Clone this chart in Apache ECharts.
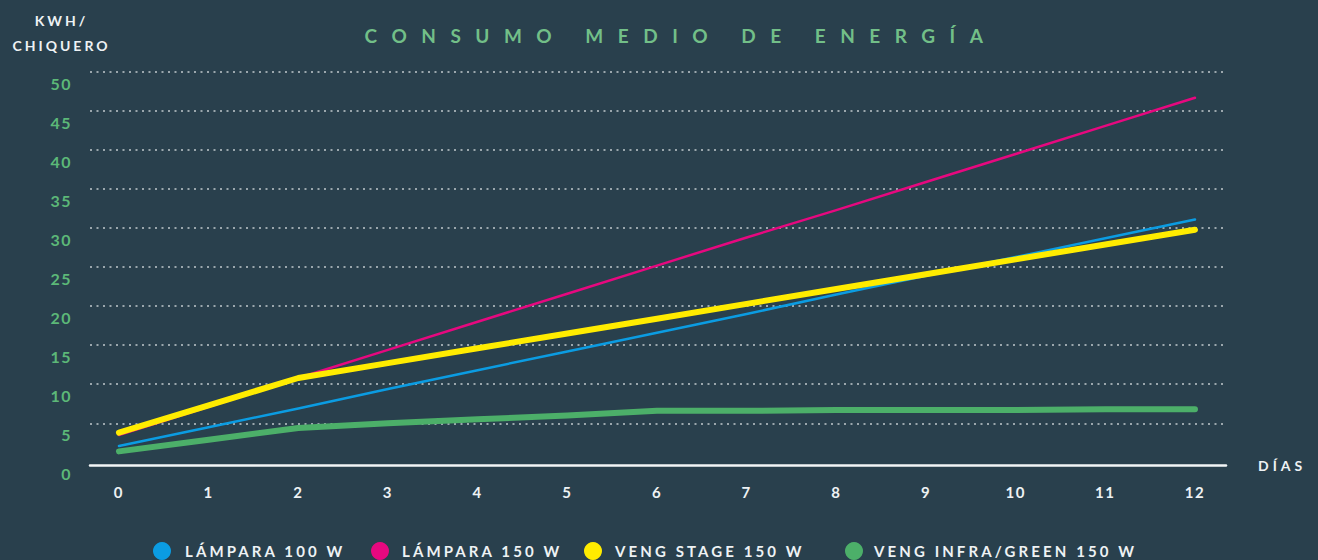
<!DOCTYPE html>
<html lang="es">
<head>
    <meta charset="UTF-8">
    <title>Consumo medio de energía</title>
    <style>
        html, body { margin: 0; padding: 0; background: #29404d; }
        #chart1 { width: 1318px; height: 560px; }
    </style>
</head>
<body>
<div id="chart1"></div>

<script type="text/javascript" src="https://cdn.jsdelivr.net/npm/echarts@6/dist/echarts.min.js"></script>
<script type="text/javascript">
    // datos (kWh por chiquero, por día)
    var dias = [0, 1, 2, 3, 4, 5, 6, 7, 8, 9, 10, 11, 12];
    var lampara100 = [2.1, 4.5, 6.9, 9.4, 11.8, 14.2, 16.6, 19.0, 21.5, 23.9, 26.3, 28.7, 31.1];
    var lampara150 = [3.5, 7.1, 10.8, 14.4, 18.0, 21.6, 25.2, 28.8, 32.3, 35.9, 39.5, 43.1, 46.7];
    var vengStage = [3.8, 7.3, 10.8, 12.7, 14.6, 16.5, 18.4, 20.3, 22.2, 24.1, 26.0, 27.9, 29.8];
    var vengInfra = [1.4, 2.9, 4.4, 5.0, 5.5, 6.0, 6.6, 6.6, 6.7, 6.7, 6.7, 6.8, 6.8];
    var nombres = ['LÁMPARA 100 W', 'LÁMPARA 150 W', 'VENG STAGE 150 W', 'VENG INFRA/GREEN 150 W'];
    var colores = ['#0b9ce2', '#e6087f', '#ffec00', '#4caf69'];

    function pares(vals) {
        return dias.map(function (d, i) { return [d, vals[i]]; });
    }

    var fuente = 'Lato, "Open Sans", sans-serif';
    var blanco = '#eef2f4';

    var myChart1 = echarts.init(document.getElementById('chart1'), null, {renderer: 'svg'});

    var legendLeft = [153, 371, 584, 845];
    var legendPad = [9, 8, 8, 6];
    var legends = nombres.map(function (n, i) {
        return {
            data: [n],
            left: legendLeft[i],
            top: 542,
            padding: 0,
            icon: 'circle',
            itemWidth: 18,
            itemHeight: 18,
            textStyle: {
                color: blanco,
                fontFamily: fuente,
                fontWeight: 'bold',
                fontSize: 15,
                padding: [0, 0, 0, legendPad[i]]
            }
        };
    });

    function linea(idx, vals, ancho) {
        return {
            name: nombres[idx],
            type: 'line',
            data: pares(vals),
            symbol: 'none',
            lineStyle: {color: colores[idx], width: ancho, cap: 'round', join: 'round'},
            itemStyle: {color: colores[idx]}
        };
    }

    myChart1.setOption({
        backgroundColor: '#29404d',
        animation: false,
        graphic: [
            {type: 'text', x: 681, y: 35, style: {text: 'CONSUMO MEDIO DE ENERGÍA', align: 'center', verticalAlign: 'middle',
                fill: '#72bf88', font: 'bold 19px ' + fuente}},
            {type: 'text', x: 61.5, y: 20, style: {text: 'KWH/', align: 'center', verticalAlign: 'middle',
                fill: blanco, font: 'bold 14px ' + fuente}},
            {type: 'text', x: 61.5, y: 45, style: {text: 'CHIQUERO', align: 'center', verticalAlign: 'middle',
                fill: blanco, font: 'bold 14px ' + fuente}}
        ],
        legend: legends,
        grid: {left: 90, right: 92, top: 72, bottom: 97.7},
        xAxis: {
            type: 'value',
            min: -0.323,
            max: 12.346,
            offset: 3,
            name: 'DÍAS',
            nameLocation: 'end',
            nameGap: 32,
            nameTextStyle: {color: blanco, fontFamily: fuente, fontWeight: 'bold', fontSize: 14, padding: [4, 0, 0, 0]},
            axisLine: {show: true, onZero: false, lineStyle: {color: '#f2f5f6', width: 2.5}},
            axisTick: {show: false},
            splitLine: {show: false},
            axisLabel: {
                customValues: dias,
                color: blanco,
                fontFamily: fuente,
                fontWeight: 'bold',
                fontSize: 15,
                margin: 19
            }
        },
        yAxis: {
            type: 'value',
            min: 0,
            max: 50,
            interval: 5,
            axisLine: {show: false},
            axisTick: {show: false},
            splitLine: {
                show: true,
                showMinLine: false,
                lineStyle: {color: '#9ba7ad', width: 2, type: [2, 4.5]}
            },
            axisLabel: {
                color: '#5cb878',
                fontFamily: fuente,
                fontWeight: 'bold',
                fontSize: 16,
                margin: 18,
                verticalAlign: 'top',
                lineHeight: 22
            }
        },
        series: [
            linea(0, lampara100, 2.5),
            linea(1, lampara150, 2.5),
            linea(2, vengStage, 6),
            linea(3, vengInfra, 6)
        ]
    });

    // espaciado de letras como en el original
    var espaciado = {'CONSUMO MEDIO DE ENERGÍA': 14.5, 'KWH/': 3, 'CHIQUERO': 3, 'DÍAS': 4};
    nombres.forEach(function (n) { espaciado[n] = 3.1; });

    function espaciar() {
        var textos = document.querySelectorAll('#chart1 text');
        textos.forEach(function (t) {
            var c = t.textContent;
            var s = espaciado[c];
            if (!s && /^\d+$/.test(c)) s = 1.5;
            if (s) t.setAttribute('letter-spacing', s + 'px');
        });
    }
    espaciar();
    myChart1.on('finished', espaciar);
    setTimeout(espaciar, 50);
</script>
</body>
</html>
